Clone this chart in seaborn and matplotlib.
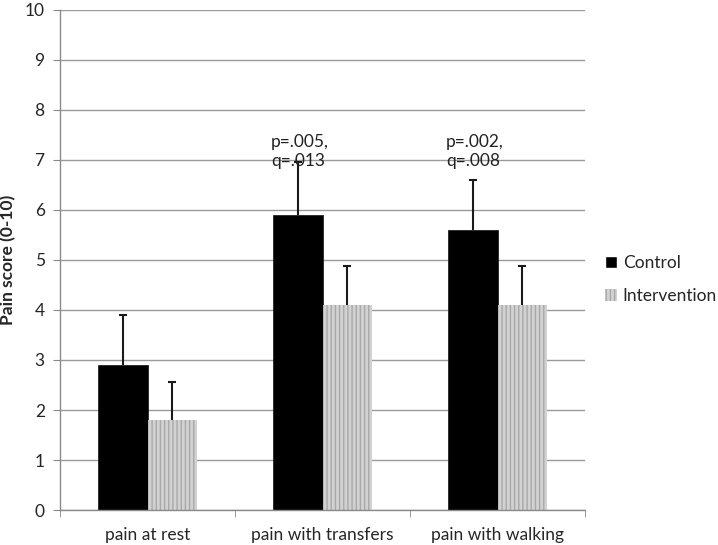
import pandas as pd
import matplotlib.pyplot as plt
import seaborn as sns

# Werte
categories = ["pain at rest", "pain with transfers", "pain with walking"]
groups = ["Control", "Intervention"]
control = [2.9, 5.9, 5.6]
control_err = [1.0, 1.05, 1.0]
intervention = [1.8, 4.1, 4.1]
intervention_err = [0.77, 0.77, 0.77]
annotations = ["", "p=.005,\nq=.013", "p=.002,\nq=.008"]

df = pd.DataFrame({
    "category": categories * 2,
    "group": [groups[0]] * 3 + [groups[1]] * 3,
    "score": control + intervention,
})

sns.set_style("white")
plt.rcParams['font.family'] = ['Lato', 'DejaVu Sans']
fs = 12.5

fig = plt.figure(figsize=(7.18, 5.45), dpi=100)
ax = fig.add_axes([0.0836, 0.0642, 0.7312, 0.9175])

sns.barplot(data=df, x="category", y="score", hue="group", order=categories,
            hue_order=groups, palette=["#000000", "#d2d2d2"], width=0.57,
            gap=0, errorbar=None, ax=ax, legend=False, saturation=1)

n = len(categories)
ctrl_patches = ax.patches[:n]
int_patches = ax.patches[n:2 * n]
for p in ctrl_patches:
    p.set_edgecolor("#222222")
    p.set_linewidth(0.6)
for p in int_patches:
    p.set_hatch("||||")
    p.set_edgecolor("#a8a8a8")
    p.set_linewidth(0)

# Fehlerbalken nur nach oben
for patches, vals, errs in [(ctrl_patches, control, control_err),
                            (int_patches, intervention, intervention_err)]:
    xs = [p.get_x() + p.get_width() / 2 for p in patches]
    eb = ax.errorbar(xs, vals, yerr=[[0] * n, errs], fmt="none", ecolor="#1a1a1a",
                     elinewidth=1.5, capsize=3, capthick=1.5, zorder=3)
    eb[1][0].set_visible(False)

for p, txt in zip(ctrl_patches, annotations):
    if txt:
        ax.text(p.get_x() - 0.01, 6.82, txt, ha="left", va="bottom",
                fontsize=fs, color="#222222", linespacing=1.2)

ax.set_ylim(0, 10)
ax.set_xlim(-0.5, n - 0.5)
ax.set_yticks(range(0, 11))
ax.yaxis.grid(True, color="#9a9a9a", linewidth=1)
ax.set_axisbelow(True)
ax.set_ylabel("Pain score (0-10)", fontsize=fs, fontweight="bold")
ax.yaxis.set_label_coords(-0.083, 0.5)
ax.set_xlabel("")

for s in ["top", "right"]:
    ax.spines[s].set_visible(False)
for s in ["left", "bottom"]:
    ax.spines[s].set_color("#8a8a8a")
    ax.spines[s].set_linewidth(1)

ax.tick_params(axis="y", labelsize=fs, length=5, color="#8a8a8a", left=True, pad=6)
ax.tick_params(axis="x", which="major", labelsize=fs, length=0, pad=12)
ax.set_xticks([i - 0.5 for i in range(n + 1)], minor=True)
ax.tick_params(axis="x", which="minor", length=5, color="#8a8a8a", bottom=True)

# Legende rechts neben dem Diagramm
handles = [plt.Rectangle((0, 0), 1, 1, facecolor="#000000"),
           plt.Rectangle((0, 0), 1, 1, facecolor="#d2d2d2", hatch="||||",
                         edgecolor="#a8a8a8", linewidth=0)]
fig.legend(handles, groups, loc="center left", bbox_to_anchor=(0.842, 0.487),
           frameon=False, fontsize=fs, handlelength=0.7, handleheight=0.7,
           handletextpad=0.35, labelspacing=1.0, borderpad=0, borderaxespad=0)

fig.savefig("out.png", dpi=100)
